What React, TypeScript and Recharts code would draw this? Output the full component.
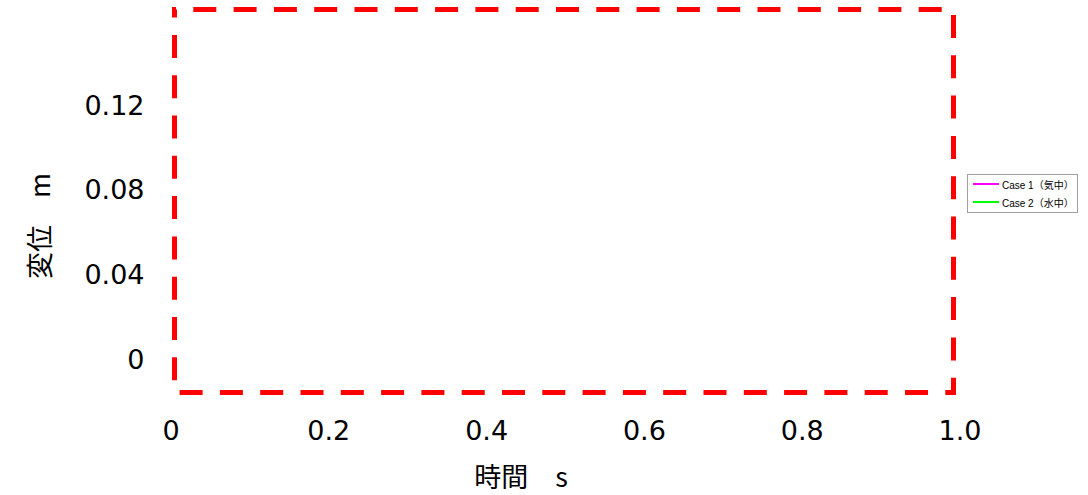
import React from "react";
import { LineChart, Line, XAxis, YAxis, Legend, ReferenceArea, Label } from "recharts";

// no traces are visible in the reference, only the frame, axes and legend
const timeValues: number[] = [];
const case1Values: number[] = [];
const case2Values: number[] = [];

const seriesNames = ["Case 1（気中）", "Case 2（水中）"];
const seriesColors = ["#ff00ff", "#00ff00"];

const xTicks = [0, 0.2, 0.4, 0.6, 0.8, 1.0];
const xTickLabels = ["0", "0.2", "0.4", "0.6", "0.8", "1.0"];
const yTicks = [0, 0.04, 0.08, 0.12];
const yTickLabels = ["0", "0.04", "0.08", "0.12"];

const xDomain: [number, number] = [0.0044, 0.9918];
const yDomain: [number, number] = [-0.0155, 0.165];

const data = timeValues.map((t, i) => ({ t, case1: case1Values[i], case2: case2Values[i] }));

const tickStyle = { fontFamily: "DejaVu Sans", fontSize: 27, fill: "#000" };
const titleFont = "'Noto Sans CJK JP', sans-serif";

const renderYTitle = (props: any) => {
  const vb = props.viewBox;
  const x = vb.x + 38;
  const y = vb.y + vb.height / 2 + 25;
  return (
    <text x={x} y={y} transform={`rotate(-90, ${x}, ${y})`} textAnchor="middle" dominantBaseline="central"
      style={{ fontFamily: titleFont, fontSize: 27, fill: "#000" }}>
      変位　m
    </text>
  );
};

const renderXTitle = (props: any) => {
  const vb = props.viewBox;
  return (
    <text x={vb.x + vb.width / 2 - 43} y={vb.y + 94.5} textAnchor="middle"
      style={{ fontFamily: titleFont, fontSize: 27, fill: "#000" }}>
      時間　s
    </text>
  );
};

const renderLegend = (props: any) => {
  const { payload } = props;
  return (
    <div style={{ border: "1px solid #a0a0a0", boxSizing: "border-box", width: 111, height: 39, background: "#fff", paddingLeft: 5 }}>
      {payload.map((entry: any) => (
        <div key={entry.value} style={{ display: "flex", alignItems: "center", height: 18 }}>
          <span style={{ display: "inline-block", width: 26, height: 2, background: entry.color, marginRight: 3 }} />
          <span style={{ fontSize: 10, fontFamily: "'Liberation Sans', 'Noto Sans CJK JP'", color: "#000", whiteSpace: "nowrap" }}>
            {entry.value}
          </span>
        </div>
      ))}
    </div>
  );
};

export default function App() {
  return (
    <div style={{ position: "absolute", left: 0, top: 0, background: "#fff" }}>
      <LineChart width={1088} height={495} data={data} margin={{ top: 9.5, right: 134.5, left: 0, bottom: 0 }}>
        <XAxis
          dataKey="t"
          type="number"
          domain={xDomain}
          allowDataOverflow
          ticks={xTicks}
          interval={0}
          tickFormatter={(v: number) => xTickLabels[xTicks.indexOf(v)]}
          tick={tickStyle}
          tickLine={false}
          axisLine={false}
          tickSize={0}
          tickMargin={28}
          height={102.5}
        >
          <Label content={renderXTitle} />
        </XAxis>
        <YAxis
          type="number"
          domain={yDomain}
          allowDataOverflow
          ticks={yTicks}
          interval={0}
          tickFormatter={(v: number) => yTickLabels[yTicks.indexOf(v)]}
          tick={tickStyle}
          tickLine={false}
          axisLine={false}
          tickSize={0}
          tickMargin={30}
          width={174.5}
        >
          <Label content={renderYTitle} />
        </YAxis>
        {/* dashed frame around the whole plot area */}
        <ReferenceArea
          x1={xDomain[0]}
          x2={xDomain[1]}
          y1={yDomain[0]}
          y2={yDomain[1]}
          ifOverflow="visible"
          fill="none"
          fillOpacity={0}
          stroke="#ff0000"
          strokeOpacity={1}
          strokeWidth={5}
          strokeDasharray="23 17.3"
          strokeDashoffset={21.5}
        />
        <Line type="linear" dataKey="case1" name={seriesNames[0]} stroke={seriesColors[0]} dot={false} isAnimationActive={false} />
        <Line type="linear" dataKey="case2" name={seriesNames[1]} stroke={seriesColors[1]} dot={false} isAnimationActive={false} />
        <Legend
          layout="vertical"
          align="center"
          verticalAlign="middle"
          content={renderLegend}
          wrapperStyle={{ left: 967, top: 174, width: 111, height: 39 }}
        />
      </LineChart>
    </div>
  );
}
